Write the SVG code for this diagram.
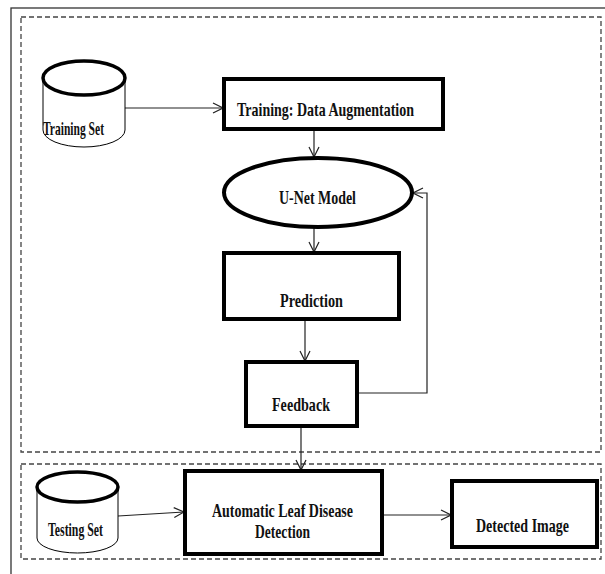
<svg xmlns="http://www.w3.org/2000/svg" width="605" height="574" viewBox="0 0 605 574">
<defs>
<style>
.frame{fill:none;stroke:#333;stroke-width:1.3}
.dash{fill:none;stroke:#444;stroke-width:1.3;stroke-dasharray:5,3}
.box{fill:#fff;stroke:#000;stroke-width:4}
.cyl-top{fill:#fff;stroke:#000;stroke-width:3.5}
.cyl-side{fill:#fff;stroke:#000;stroke-width:1}
.conn{fill:none;stroke:#222;stroke-width:1.2;marker-end:url(#arr)}
.lbl{font-family:"Liberation Serif","Times New Roman",serif;font-weight:bold;font-size:19px;fill:#111}
</style>
<marker id="arr" viewBox="0 0 12 12" refX="11" refY="6" markerWidth="12" markerHeight="12" markerUnits="userSpaceOnUse" orient="auto">
<path d="M1,1 L11,6 L1,11" fill="none" stroke="#222" stroke-width="1.2"/>
</marker>
</defs>
<rect class="frame" x="11" y="8" width="600" height="572"/>
<rect class="dash" x="21" y="17" width="580" height="435"/>
<rect class="dash" x="21" y="464" width="580" height="95"/>

<g id="connectors">
<line class="conn" x1="125" y1="108" x2="223" y2="108"/>
<line class="conn" x1="314" y1="130" x2="314" y2="157"/>
<line class="conn" x1="314" y1="227" x2="314" y2="252"/>
<line class="conn" x1="305" y1="320" x2="305" y2="361"/>
<polyline class="conn" points="358,393 427,393 427,193 413,193"/>
<line class="conn" x1="301" y1="427" x2="301" y2="470"/>
<line class="conn" x1="118" y1="516" x2="184" y2="512"/>
<line class="conn" x1="383" y1="515" x2="451" y2="515"/>
</g>

<g id="training-set">
<path class="cyl-side" d="M43,78 L43,130 A41,17 0 0 0 125,130 L125,78"/>
<ellipse class="cyl-top" cx="84" cy="78" rx="41" ry="17"/>
<text class="lbl" x="43" y="135" font-size="16" textLength="61" lengthAdjust="spacingAndGlyphs">Training Set</text>
</g>

<g id="training-box">
<rect class="box" x="224" y="79" width="219" height="50"/>
<text class="lbl" x="237" y="116" textLength="177" lengthAdjust="spacingAndGlyphs">Training: Data Augmentation</text>
</g>

<g id="unet">
<ellipse class="box" cx="318" cy="192.5" rx="94" ry="34.5"/>
<text class="lbl" x="279" y="204" textLength="77" lengthAdjust="spacingAndGlyphs">U-Net Model</text>
</g>

<g id="prediction">
<rect class="box" x="224" y="253" width="175" height="66"/>
<text class="lbl" x="280" y="307" textLength="63" lengthAdjust="spacingAndGlyphs">Prediction</text>
</g>

<g id="feedback">
<rect class="box" x="246" y="362" width="111" height="64"/>
<text class="lbl" x="272" y="411" textLength="58" lengthAdjust="spacingAndGlyphs">Feedback</text>
</g>

<g id="testing-set">
<path class="cyl-side" d="M37,487 L37,538 A40.5,15 0 0 0 118,538 L118,487"/>
<ellipse class="cyl-top" cx="77.5" cy="487" rx="40.5" ry="15"/>
<text class="lbl" x="48" y="536" font-size="17" textLength="55" lengthAdjust="spacingAndGlyphs">Testing Set</text>
</g>

<g id="auto-detection">
<rect class="box" x="185" y="471" width="197" height="83"/>
<text class="lbl" x="212" y="517" textLength="141" lengthAdjust="spacingAndGlyphs">Automatic Leaf Disease</text>
<text class="lbl" x="255" y="538" textLength="55" lengthAdjust="spacingAndGlyphs">Detection</text>
</g>

<g id="detected-image">
<rect class="box" x="452" y="481" width="145" height="66"/>
<text class="lbl" x="476" y="532" textLength="93" lengthAdjust="spacingAndGlyphs">Detected Image</text>
</g>
</svg>
